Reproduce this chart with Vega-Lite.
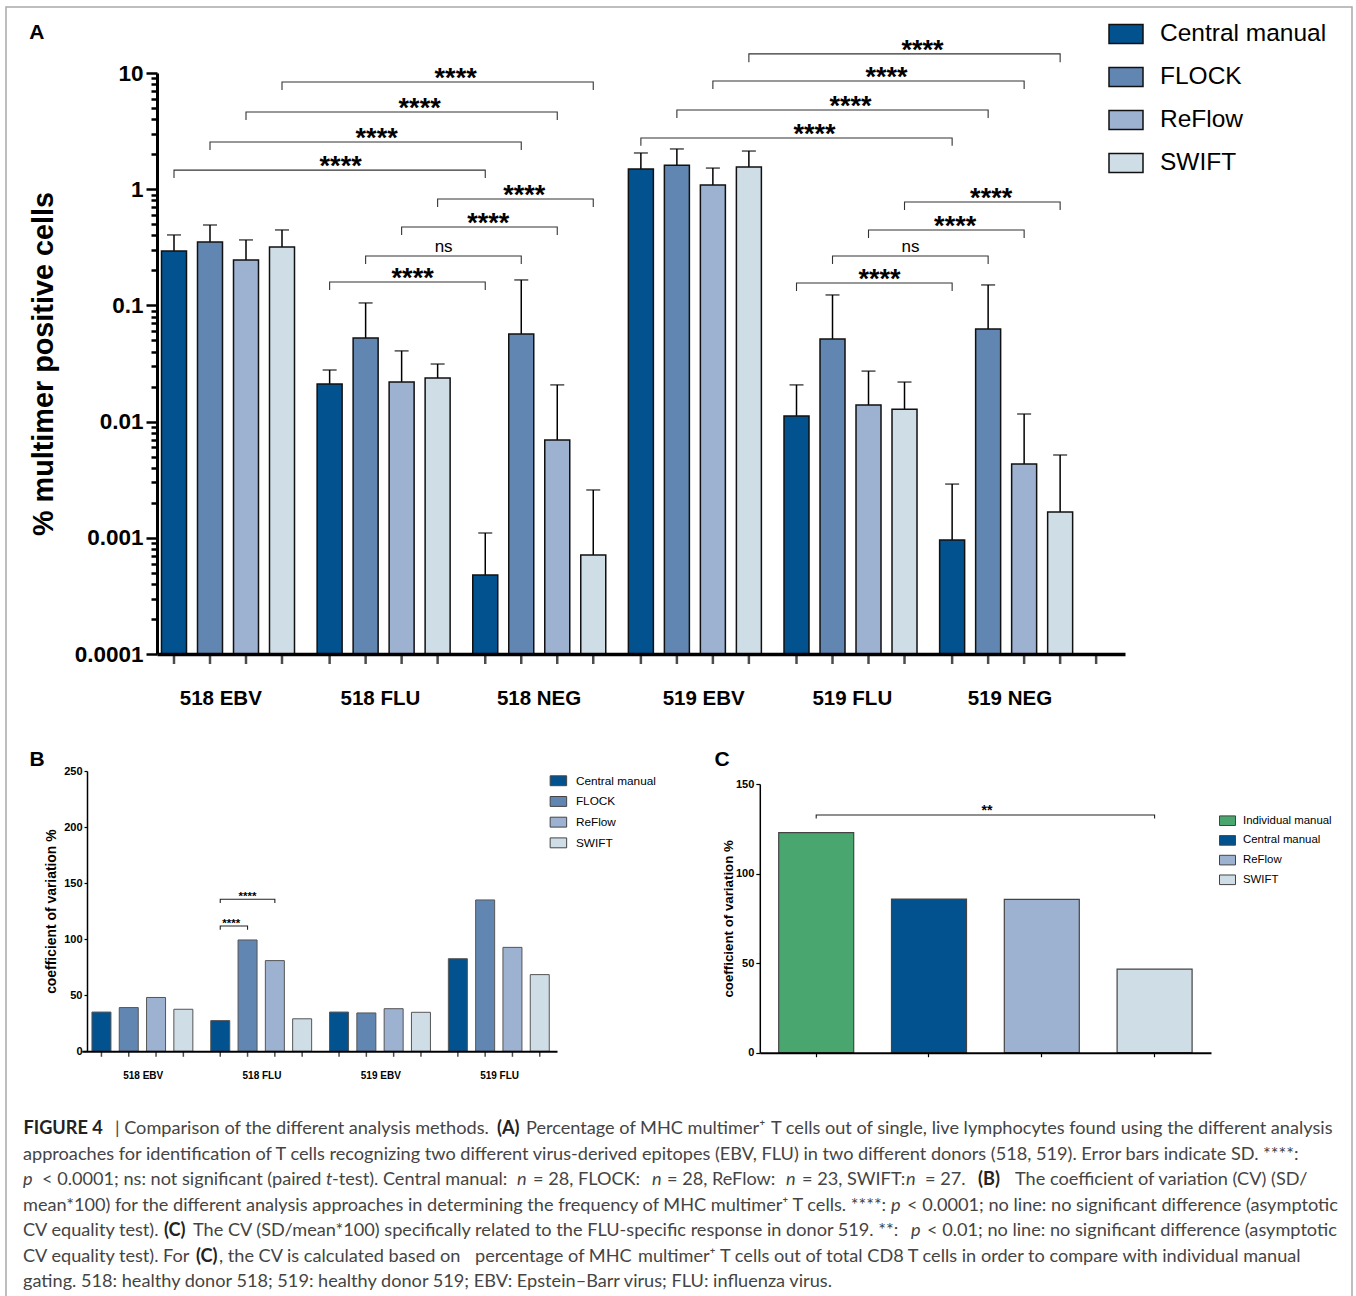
{"$schema":"https://vega.github.io/schema/vega-lite/v6.json","padding":{"left":6,"top":7,"right":4,"bottom":0},"autosize":{"type":"none"},"background":"white","width":1346,"height":1292,"view":{"stroke":"#a9a9a9","strokeWidth":1.5},"config":{"font":"Liberation Sans"},"resolve":{"scale":{"x":"independent","y":"independent","xOffset":"independent","color":"independent"},"axis":{"x":"independent","y":"independent"},"legend":{"color":"independent"}},"datasets":{"barsA":[{"group":"518 EBV","method":"Central manual","value":0.294,"err":0.404},{"group":"518 EBV","method":"FLOCK","value":0.352,"err":0.492},{"group":"518 EBV","method":"ReFlow","value":0.246,"err":0.366},{"group":"518 EBV","method":"SWIFT","value":0.318,"err":0.446},{"group":"518 FLU","method":"Central manual","value":0.0211,"err":0.0278},{"group":"518 FLU","method":"FLOCK","value":0.0524,"err":0.105},{"group":"518 FLU","method":"ReFlow","value":0.0219,"err":0.0406},{"group":"518 FLU","method":"SWIFT","value":0.0237,"err":0.0313},{"group":"518 NEG","method":"Central manual","value":0.000479,"err":0.0011},{"group":"518 NEG","method":"FLOCK","value":0.0568,"err":0.1656},{"group":"518 NEG","method":"ReFlow","value":0.00695,"err":0.0207},{"group":"518 NEG","method":"SWIFT","value":0.00071,"err":0.00258},{"group":"519 EBV","method":"Central manual","value":1.49,"err":2.05},{"group":"519 EBV","method":"FLOCK","value":1.61,"err":2.22},{"group":"519 EBV","method":"ReFlow","value":1.087,"err":1.52},{"group":"519 EBV","method":"SWIFT","value":1.55,"err":2.13},{"group":"519 FLU","method":"Central manual","value":0.0112,"err":0.0207},{"group":"519 FLU","method":"FLOCK","value":0.0514,"err":0.123},{"group":"519 FLU","method":"ReFlow","value":0.0139,"err":0.0272},{"group":"519 FLU","method":"SWIFT","value":0.0128,"err":0.0219},{"group":"519 NEG","method":"Central manual","value":0.000957,"err":0.0029},{"group":"519 NEG","method":"FLOCK","value":0.0627,"err":0.15},{"group":"519 NEG","method":"ReFlow","value":0.00432,"err":0.0116},{"group":"519 NEG","method":"SWIFT","value":0.00167,"err":0.00516},{"group":"519 NEG","method":""}],"bracketsA":[{"b":1,"s":1,"group":"518 EBV","method":"Central manual","level":1.25},{"b":1,"s":2,"group":"518 EBV","method":"Central manual","level":1.46},{"b":1,"s":3,"group":"518 NEG","method":"Central manual","level":1.46},{"b":1,"s":4,"group":"518 NEG","method":"Central manual","level":1.25},{"b":2,"s":1,"group":"518 EBV","method":"FLOCK","level":2.17},{"b":2,"s":2,"group":"518 EBV","method":"FLOCK","level":2.55},{"b":2,"s":3,"group":"518 NEG","method":"FLOCK","level":2.55},{"b":2,"s":4,"group":"518 NEG","method":"FLOCK","level":2.17},{"b":3,"s":1,"group":"518 EBV","method":"ReFlow","level":3.94},{"b":3,"s":2,"group":"518 EBV","method":"ReFlow","level":4.62},{"b":3,"s":3,"group":"518 NEG","method":"ReFlow","level":4.62},{"b":3,"s":4,"group":"518 NEG","method":"ReFlow","level":3.94},{"b":4,"s":1,"group":"518 EBV","method":"SWIFT","level":7.14},{"b":4,"s":2,"group":"518 EBV","method":"SWIFT","level":8.37},{"b":4,"s":3,"group":"518 NEG","method":"SWIFT","level":8.37},{"b":4,"s":4,"group":"518 NEG","method":"SWIFT","level":7.14},{"b":5,"s":1,"group":"518 FLU","method":"Central manual","level":0.136},{"b":5,"s":2,"group":"518 FLU","method":"Central manual","level":0.159},{"b":5,"s":3,"group":"518 NEG","method":"Central manual","level":0.159},{"b":5,"s":4,"group":"518 NEG","method":"Central manual","level":0.136},{"b":6,"s":1,"group":"518 FLU","method":"FLOCK","level":0.227},{"b":6,"s":2,"group":"518 FLU","method":"FLOCK","level":0.266},{"b":6,"s":3,"group":"518 NEG","method":"FLOCK","level":0.266},{"b":6,"s":4,"group":"518 NEG","method":"FLOCK","level":0.227},{"b":7,"s":1,"group":"518 FLU","method":"ReFlow","level":0.404},{"b":7,"s":2,"group":"518 FLU","method":"ReFlow","level":0.473},{"b":7,"s":3,"group":"518 NEG","method":"ReFlow","level":0.473},{"b":7,"s":4,"group":"518 NEG","method":"ReFlow","level":0.404},{"b":8,"s":1,"group":"518 FLU","method":"SWIFT","level":0.703},{"b":8,"s":2,"group":"518 FLU","method":"SWIFT","level":0.824},{"b":8,"s":3,"group":"518 NEG","method":"SWIFT","level":0.824},{"b":8,"s":4,"group":"518 NEG","method":"SWIFT","level":0.703},{"b":9,"s":1,"group":"519 EBV","method":"Central manual","level":2.36},{"b":9,"s":2,"group":"519 EBV","method":"Central manual","level":2.76},{"b":9,"s":3,"group":"519 NEG","method":"Central manual","level":2.76},{"b":9,"s":4,"group":"519 NEG","method":"Central manual","level":2.36},{"b":10,"s":1,"group":"519 EBV","method":"FLOCK","level":4.1},{"b":10,"s":2,"group":"519 EBV","method":"FLOCK","level":4.81},{"b":10,"s":3,"group":"519 NEG","method":"FLOCK","level":4.81},{"b":10,"s":4,"group":"519 NEG","method":"FLOCK","level":4.1},{"b":11,"s":1,"group":"519 EBV","method":"ReFlow","level":7.28},{"b":11,"s":2,"group":"519 EBV","method":"ReFlow","level":8.53},{"b":11,"s":3,"group":"519 NEG","method":"ReFlow","level":8.53},{"b":11,"s":4,"group":"519 NEG","method":"ReFlow","level":7.28},{"b":12,"s":1,"group":"519 EBV","method":"SWIFT","level":12.4},{"b":12,"s":2,"group":"519 EBV","method":"SWIFT","level":14.6},{"b":12,"s":3,"group":"519 NEG","method":"SWIFT","level":14.6},{"b":12,"s":4,"group":"519 NEG","method":"SWIFT","level":12.4},{"b":13,"s":1,"group":"519 FLU","method":"Central manual","level":0.133},{"b":13,"s":2,"group":"519 FLU","method":"Central manual","level":0.156},{"b":13,"s":3,"group":"519 NEG","method":"Central manual","level":0.156},{"b":13,"s":4,"group":"519 NEG","method":"Central manual","level":0.133},{"b":14,"s":1,"group":"519 FLU","method":"FLOCK","level":0.227},{"b":14,"s":2,"group":"519 FLU","method":"FLOCK","level":0.266},{"b":14,"s":3,"group":"519 NEG","method":"FLOCK","level":0.266},{"b":14,"s":4,"group":"519 NEG","method":"FLOCK","level":0.227},{"b":15,"s":1,"group":"519 FLU","method":"ReFlow","level":0.38},{"b":15,"s":2,"group":"519 FLU","method":"ReFlow","level":0.446},{"b":15,"s":3,"group":"519 NEG","method":"ReFlow","level":0.446},{"b":15,"s":4,"group":"519 NEG","method":"ReFlow","level":0.38},{"b":16,"s":1,"group":"519 FLU","method":"SWIFT","level":0.662},{"b":16,"s":2,"group":"519 FLU","method":"SWIFT","level":0.776},{"b":16,"s":3,"group":"519 NEG","method":"SWIFT","level":0.776},{"b":16,"s":4,"group":"519 NEG","method":"SWIFT","level":0.662}],"starsFar":[{"group":"518 FLU","method":"ReFlow","level":4.62},{"group":"518 FLU","method":"SWIFT","level":8.37},{"group":"519 FLU","method":"Central manual","level":2.76},{"group":"519 FLU","method":"FLOCK","level":4.81},{"group":"519 FLU","method":"ReFlow","level":8.53},{"group":"519 FLU","method":"SWIFT","level":14.6}],"starsMid":[{"group":"518 FLU","method":"Central manual","level":1.46},{"group":"518 FLU","method":"FLOCK","level":2.55},{"group":"518 FLU","method":"ReFlow","level":0.159},{"group":"519 FLU","method":"ReFlow","level":0.156}],"starsNear":[{"group":"518 NEG","method":"Central manual","level":0.473},{"group":"518 NEG","method":"FLOCK","level":0.824},{"group":"519 NEG","method":"Central manual","level":0.446},{"group":"519 NEG","method":"FLOCK","level":0.776}],"nsA":[{"group":"518 FLU","method":"SWIFT","level":0.266},{"group":"519 FLU","method":"SWIFT","level":0.266}],"barsB":[{"group":"518 EBV","method":"Central manual","cv":35},{"group":"518 EBV","method":"FLOCK","cv":39},{"group":"518 EBV","method":"ReFlow","cv":48},{"group":"518 EBV","method":"SWIFT","cv":37.5},{"group":"518 FLU","method":"Central manual","cv":27.4},{"group":"518 FLU","method":"FLOCK","cv":99.3},{"group":"518 FLU","method":"ReFlow","cv":80.9},{"group":"518 FLU","method":"SWIFT","cv":29},{"group":"519 EBV","method":"Central manual","cv":35},{"group":"519 EBV","method":"FLOCK","cv":34.2},{"group":"519 EBV","method":"ReFlow","cv":38},{"group":"519 EBV","method":"SWIFT","cv":34.8},{"group":"519 FLU","method":"Central manual","cv":82.6},{"group":"519 FLU","method":"FLOCK","cv":135},{"group":"519 FLU","method":"ReFlow","cv":92.7},{"group":"519 FLU","method":"SWIFT","cv":68.4}],"bracketsB":[{"b":1,"s":1,"group":"518 FLU","method":"Central manual","level":108.5},{"b":1,"s":2,"group":"518 FLU","method":"Central manual","level":111.8},{"b":1,"s":3,"group":"518 FLU","method":"FLOCK","level":111.8},{"b":1,"s":4,"group":"518 FLU","method":"FLOCK","level":108.5},{"b":2,"s":1,"group":"518 FLU","method":"Central manual","level":132.3},{"b":2,"s":2,"group":"518 FLU","method":"Central manual","level":135.6},{"b":2,"s":3,"group":"518 FLU","method":"ReFlow","level":135.6},{"b":2,"s":4,"group":"518 FLU","method":"ReFlow","level":132.3}],"barsC":[{"method":"Individual manual","cv":122.8},{"method":"Central manual","cv":85.8},{"method":"ReFlow","cv":85.6},{"method":"SWIFT","cv":46.7}],"bracketC":[{"s":1,"method":"Individual manual","level":130.8},{"s":2,"method":"Individual manual","level":132.7},{"s":3,"method":"SWIFT","level":132.7},{"s":4,"method":"SWIFT","level":130.8}],"caption":[{"line":1,"col":1.75,"face":"bold","text":"FIGURE 4"},{"line":1,"col":10.9,"face":"regular","text":"| Comparison of the different analysis methods."},{"line":1,"col":49.1,"face":"bold","text":"(A)"},{"line":1,"col":52.0,"face":"regular","text":"Percentage of MHC multimer⁺"},{"line":1,"col":76.5,"face":"regular","text":"T cells out of single, live lymphocytes found using the different analysis"},{"line":2,"col":1.7,"face":"regular","text":"approaches for identification of T cells recognizing two different virus-derived epitopes (EBV, FLU) in two different donors (518, 519). Error bars indicate SD. ****:"},{"line":3,"col":1.7,"face":"italic","text":"p"},{"line":3,"col":3.6,"face":"regular","text":"< 0.0001; ns: not significant (paired"},{"line":3,"col":32.0,"face":"italic","text":"t"},{"line":3,"col":32.6,"face":"regular","text":"-test). Central manual:"},{"line":3,"col":51.1,"face":"italic","text":"n"},{"line":3,"col":52.7,"face":"regular","text":"= 28, FLOCK:"},{"line":3,"col":64.6,"face":"italic","text":"n"},{"line":3,"col":66.1,"face":"regular","text":"= 28, ReFlow:"},{"line":3,"col":78.0,"face":"italic","text":"n"},{"line":3,"col":79.6,"face":"regular","text":"= 23, SWIFT:"},{"line":3,"col":90.0,"face":"italic","text":"n"},{"line":3,"col":91.9,"face":"regular","text":"= 27."},{"line":3,"col":97.2,"face":"bold","text":"(B)"},{"line":3,"col":100.9,"face":"regular","text":"The coefficient of variation (CV) (SD/"},{"line":4,"col":1.7,"face":"regular","text":"mean*100) for the different analysis approaches in determining the frequency of MHC multimer⁺ T cells. ****:"},{"line":4,"col":88.5,"face":"italic","text":"p"},{"line":4,"col":90.1,"face":"regular","text":"< 0.0001; no line: no significant difference (asymptotic"},{"line":5,"col":1.7,"face":"regular","text":"CV equality test)."},{"line":5,"col":15.8,"face":"bold","text":"(C)"},{"line":5,"col":18.7,"face":"regular","text":"The CV (SD/mean*100) specifically related to the FLU-specific response in donor 519. **:"},{"line":5,"col":90.5,"face":"italic","text":"p"},{"line":5,"col":92.1,"face":"regular","text":"< 0.01; no line: no significant difference (asymptotic"},{"line":6,"col":1.7,"face":"regular","text":"CV equality test). For"},{"line":6,"col":19.0,"face":"bold","text":"(C)"},{"line":6,"col":21.3,"face":"regular","text":", the CV is calculated based on"},{"line":6,"col":46.9,"face":"regular","text":"percentage of MHC"},{"line":6,"col":63.2,"face":"regular","text":"multimer⁺"},{"line":6,"col":71.4,"face":"regular","text":"T cells out of total CD8 T cells in order to compare with individual manual"},{"line":7,"col":1.7,"face":"regular","text":"gating. 518: healthy donor 518; 519: healthy donor 519; EBV: Epstein–Barr virus; FLU: influenza virus."}]},"layer":[{"layer":[{"data":{"name":"barsA"},"mark":{"type":"tick","orient":"vertical","size":10,"thickness":2.5,"color":"black","yOffset":5},"encoding":{"x":{"field":"group","type":"nominal","scale":{"domain":["518 EBV","518 FLU","518 NEG","519 EBV","519 FLU","519 NEG"],"range":[151,1119],"paddingInner":0,"paddingOuter":0.11,"align":0},"axis":{"orient":"bottom","offset":-645,"ticks":false,"labels":false,"title":null,"domainWidth":3.5,"domainColor":"black","zindex":1}},"xOffset":{"field":"method","type":"nominal","scale":{"domain":["Central manual","FLOCK","ReFlow","SWIFT",""],"range":[-1,179],"paddingInner":0,"paddingOuter":0}},"y":{"datum":0.0001,"type":"quantitative","scale":{"type":"log","domain":[0.0001,10],"range":[647,66],"nice":false},"axis":{"orient":"left","offset":-151,"title":"% multimer positive cells","titleFontSize":28.8,"titleFontWeight":"bold","titleColor":"black","titlePadding":16,"labelFontSize":22.5,"labelFontWeight":"bold","labelColor":"black","labelPadding":3,"labelOverlap":false,"domainWidth":3,"domainColor":"black","tickColor":"black","tickWidth":2.5,"tickSize":{"condition":{"test":"indexof(['10','1','0.1','0.01','0.001','0.0001'],''+datum.value)>=0","value":11},"value":6},"grid":false,"zindex":1,"values":[0.0001,0.0002,0.0003,0.0004,0.0005,0.0006,0.0007,0.0008,0.0009,0.001,0.002,0.003,0.004,0.005,0.006,0.007,0.008,0.009,0.01,0.02,0.03,0.04,0.05,0.06,0.07,0.08,0.09,0.1,0.2,0.3,0.4,0.5,0.6,0.7,0.8,0.9,1,2,3,4,5,6,7,8,9,10],"labelExpr":"indexof(['10','1','0.1','0.01','0.001','0.0001'],''+datum.value)>=0?''+datum.value:''"}}}},{"data":{"name":"barsA"},"mark":{"type":"rule","color":"black","strokeWidth":1.5},"encoding":{"x":{"field":"group","type":"nominal"},"xOffset":{"field":"method","type":"nominal"},"y":{"field":"value","type":"quantitative"},"y2":{"field":"err"}}},{"data":{"name":"barsA"},"mark":{"type":"tick","orient":"horizontal","size":14,"thickness":1.5,"color":"black"},"encoding":{"x":{"field":"group","type":"nominal"},"xOffset":{"field":"method","type":"nominal"},"y":{"field":"err","type":"quantitative"}}},{"data":{"name":"barsA"},"mark":{"type":"bar","width":25,"stroke":"#111111","strokeWidth":1.5},"encoding":{"x":{"field":"group","type":"nominal"},"xOffset":{"field":"method","type":"nominal"},"y":{"field":"value","type":"quantitative","stack":null},"y2":{"datum":0.0001},"color":{"field":"method","type":"nominal","scale":{"domain":["Central manual","FLOCK","ReFlow","SWIFT"],"range":["#02528f","#6286b2","#9db1d0","#cedde6"]},"legend":{"title":null,"orient":"none","legendX":1102,"legendY":9,"symbolType":"M-1,-0.56H1V0.56H-1Z","symbolSize":1156,"symbolStrokeColor":"#111111","symbolStrokeWidth":1.5,"labelFontSize":24.5,"labelColor":"black","labelOffset":16,"rowPadding":12,"labelLimit":300}}}},{"data":{"name":"bracketsA"},"mark":{"type":"line","color":"#333333","strokeWidth":1.1},"encoding":{"x":{"field":"group","type":"nominal"},"xOffset":{"field":"method","type":"nominal"},"y":{"field":"level","type":"quantitative"},"detail":{"field":"b"},"order":{"field":"s"}}},{"data":{"name":"starsFar"},"mark":{"type":"text","text":"****","fontWeight":"bold","fontSize":27,"dx":18,"dy":5,"baseline":"alphabetic","color":"black"},"encoding":{"x":{"field":"group","type":"nominal"},"xOffset":{"field":"method","type":"nominal"},"y":{"field":"level","type":"quantitative"}}},{"data":{"name":"starsMid"},"mark":{"type":"text","text":"****","fontWeight":"bold","fontSize":27,"dx":11,"dy":5,"baseline":"alphabetic","color":"black"},"encoding":{"x":{"field":"group","type":"nominal"},"xOffset":{"field":"method","type":"nominal"},"y":{"field":"level","type":"quantitative"}}},{"data":{"name":"starsNear"},"mark":{"type":"text","text":"****","fontWeight":"bold","fontSize":27,"dx":3,"dy":5,"baseline":"alphabetic","color":"black"},"encoding":{"x":{"field":"group","type":"nominal"},"xOffset":{"field":"method","type":"nominal"},"y":{"field":"level","type":"quantitative"}}},{"data":{"name":"nsA"},"mark":{"type":"text","text":"ns","fontSize":17,"dx":6,"dy":-4,"baseline":"alphabetic","color":"black"},"encoding":{"x":{"field":"group","type":"nominal"},"xOffset":{"field":"method","type":"nominal"},"y":{"field":"level","type":"quantitative"}}},{"data":{"values":[{"group":"518 EBV"}]},"mark":{"type":"text","fontWeight":"bold","fontSize":20.5,"dx":-14,"dy":51,"baseline":"alphabetic","color":"black"},"encoding":{"x":{"field":"group","type":"nominal"},"y":{"datum":0.0001,"type":"quantitative"},"text":{"field":"group"}}},{"data":{"values":[{"group":"518 FLU"}]},"mark":{"type":"text","fontWeight":"bold","fontSize":20.5,"dx":-10,"dy":51,"baseline":"alphabetic","color":"black"},"encoding":{"x":{"field":"group","type":"nominal"},"y":{"datum":0.0001,"type":"quantitative"},"text":{"field":"group"}}},{"data":{"values":[{"group":"518 NEG"}]},"mark":{"type":"text","fontWeight":"bold","fontSize":20.5,"dx":-7,"dy":51,"baseline":"alphabetic","color":"black"},"encoding":{"x":{"field":"group","type":"nominal"},"y":{"datum":0.0001,"type":"quantitative"},"text":{"field":"group"}}},{"data":{"values":[{"group":"519 EBV"}]},"mark":{"type":"text","fontWeight":"bold","fontSize":20.5,"dx":2,"dy":51,"baseline":"alphabetic","color":"black"},"encoding":{"x":{"field":"group","type":"nominal"},"y":{"datum":0.0001,"type":"quantitative"},"text":{"field":"group"}}},{"data":{"values":[{"group":"519 FLU"}]},"mark":{"type":"text","fontWeight":"bold","fontSize":20.5,"dx":-5,"dy":51,"baseline":"alphabetic","color":"black"},"encoding":{"x":{"field":"group","type":"nominal"},"y":{"datum":0.0001,"type":"quantitative"},"text":{"field":"group"}}},{"data":{"values":[{"group":"519 NEG"}]},"mark":{"type":"text","fontWeight":"bold","fontSize":20.5,"dx":-3,"dy":51,"baseline":"alphabetic","color":"black"},"encoding":{"x":{"field":"group","type":"nominal"},"y":{"datum":0.0001,"type":"quantitative"},"text":{"field":"group"}}},{"data":{"values":[{"group":"518 EBV"}]},"mark":{"type":"text","text":"A","fontWeight":"bold","fontSize":21,"dx":-198,"color":"black"},"encoding":{"x":{"field":"group","type":"nominal"},"y":{"datum":22,"type":"quantitative"}}}]},{"layer":[{"data":{"name":"barsB"},"mark":{"type":"tick","orient":"vertical","size":5,"thickness":1.5,"color":"black","yOffset":3},"encoding":{"x":{"field":"group","type":"nominal","scale":{"domain":["518 EBV","518 FLU","519 EBV","519 FLU"],"range":[75.8,551],"paddingInner":0,"paddingOuter":0},"axis":{"orient":"bottom","offset":-247.7,"title":null,"ticks":false,"labelAngle":0,"labelFontSize":10,"labelFontWeight":"bold","labelColor":"black","labelPadding":19,"labelOffset":2,"domainWidth":2,"domainColor":"black","zindex":1}},"xOffset":{"field":"method","type":"nominal","scale":{"domain":["Central manual","FLOCK","ReFlow","SWIFT"],"range":[6,115.2],"paddingInner":0,"paddingOuter":0}},"y":{"datum":0,"type":"quantitative","scale":{"domain":[0,250],"range":[1044.3,764],"nice":false},"axis":{"orient":"left","offset":-81,"title":"coefficient of variation %","titleFontSize":13.9,"titleFontWeight":"bold","titleColor":"black","titlePadding":5,"values":[0,50,100,150,200,250],"labelFontSize":11,"labelFontWeight":"bold","labelColor":"black","labelPadding":2,"tickSize":3,"tickColor":"black","tickWidth":1.2,"domainColor":"black","domainWidth":1.5,"grid":false}}}},{"data":{"name":"barsB"},"mark":{"type":"bar","width":19,"stroke":"#555555","strokeWidth":1},"encoding":{"x":{"field":"group","type":"nominal"},"xOffset":{"field":"method","type":"nominal"},"y":{"field":"cv","type":"quantitative","stack":null},"color":{"field":"method","type":"nominal","scale":{"domain":["Central manual","FLOCK","ReFlow","SWIFT"],"range":["#02528f","#6286b2","#9db1d0","#cedde6"]},"legend":{"title":null,"orient":"none","legendX":543.4,"legendY":764.75,"symbolType":"M-1,-0.6H1V0.6H-1Z","symbolSize":272,"symbolStrokeColor":"#444444","symbolStrokeWidth":1,"labelFontSize":11.8,"labelColor":"black","labelOffset":8.5,"rowPadding":4.7,"labelLimit":200}}}},{"data":{"name":"bracketsB"},"mark":{"type":"line","color":"#222222","strokeWidth":1.1},"encoding":{"x":{"field":"group","type":"nominal"},"xOffset":{"field":"method","type":"nominal"},"y":{"field":"level","type":"quantitative"},"detail":{"field":"b"},"order":{"field":"s"}}},{"data":{"values":[{"group":"518 FLU","method":"Central manual","level":111.8}]},"mark":{"type":"text","text":"****","fontWeight":"bold","fontSize":11.5,"dx":11,"dy":1,"baseline":"alphabetic","color":"black"},"encoding":{"x":{"field":"group","type":"nominal"},"xOffset":{"field":"method","type":"nominal"},"y":{"field":"level","type":"quantitative"}}},{"data":{"values":[{"group":"518 FLU","method":"FLOCK","level":135.6}]},"mark":{"type":"text","text":"****","fontWeight":"bold","fontSize":11.5,"dy":1,"baseline":"alphabetic","color":"black"},"encoding":{"x":{"field":"group","type":"nominal"},"xOffset":{"field":"method","type":"nominal"},"y":{"field":"level","type":"quantitative"}}},{"data":{"values":[{"group":"518 EBV"}]},"mark":{"type":"text","text":"B","fontWeight":"bold","fontSize":21,"dx":-104,"color":"black"},"encoding":{"x":{"field":"group","type":"nominal"},"y":{"datum":260,"type":"quantitative"}}}]},{"layer":[{"data":{"name":"barsC"},"mark":{"type":"bar","width":75,"stroke":"#444444","strokeWidth":1.2},"encoding":{"x":{"field":"method","type":"nominal","scale":{"domain":["Individual manual","Central manual","ReFlow","SWIFT"],"range":[753.8,1205],"paddingInner":0,"paddingOuter":0},"axis":{"orient":"bottom","offset":-246.3,"title":null,"labels":false,"ticks":true,"tickSize":4,"tickColor":"black","tickWidth":1.2,"domainColor":"black","domainWidth":2,"zindex":1}},"y":{"field":"cv","type":"quantitative","stack":null,"scale":{"domain":[0,150],"range":[1045.7,777],"nice":false},"axis":{"orient":"left","offset":-753.8,"title":"coefficient of variation %","titleFontSize":13.3,"titleFontWeight":"bold","titleColor":"black","titlePadding":0,"values":[0,50,100,150],"labelFontSize":11,"labelFontWeight":"bold","labelColor":"black","labelPadding":2,"tickSize":4,"tickColor":"black","tickWidth":1.2,"domainColor":"black","domainWidth":1.5,"grid":false}},"color":{"field":"method","type":"nominal","scale":{"domain":["Individual manual","Central manual","ReFlow","SWIFT"],"range":["#4aa66f","#02528f","#9db1d0","#cedde6"]},"legend":{"title":null,"orient":"none","legendX":1213,"legendY":805.2,"symbolType":"M-1,-0.6H1V0.6H-1Z","symbolSize":256,"symbolStrokeColor":"#444444","symbolStrokeWidth":1,"labelFontSize":11.4,"labelColor":"black","labelOffset":7,"rowPadding":3.7,"labelLimit":200}}}},{"data":{"name":"bracketC"},"mark":{"type":"line","color":"#222222","strokeWidth":1.1},"encoding":{"x":{"field":"method","type":"nominal"},"y":{"field":"level","type":"quantitative"},"order":{"field":"s"}}},{"data":{"values":[{"method":"Central manual","level":132.7}]},"mark":{"type":"text","text":"**","fontWeight":"bold","fontSize":14,"dx":58,"dy":0,"baseline":"alphabetic","color":"black"},"encoding":{"x":{"field":"method","type":"nominal"},"y":{"field":"level","type":"quantitative"}}},{"data":{"values":[{"method":"Individual manual"}]},"mark":{"type":"text","text":"C","fontWeight":"bold","fontSize":21,"dx":-94,"color":"black"},"encoding":{"x":{"field":"method","type":"nominal"},"y":{"datum":163.4,"type":"quantitative"}}}]},{"data":{"name":"caption"},"encoding":{"x":{"field":"col","type":"quantitative","scale":{"domain":[0,134.6]},"axis":null},"y":{"field":"line","type":"quantitative","scale":{"domain":[1,7],"range":[1122,1275]},"axis":null},"text":{"field":"text"}},"layer":[{"transform":[{"filter":"datum.face=='regular'"}],"mark":{"type":"text","align":"left","baseline":"middle","font":"Lato","fontSize":18.15,"color":"#444444"}},{"transform":[{"filter":"datum.face=='bold'"}],"mark":{"type":"text","align":"left","baseline":"middle","font":"Lato","fontSize":18.15,"fontWeight":"bold","color":"#222222"}},{"transform":[{"filter":"datum.face=='italic'"}],"mark":{"type":"text","align":"left","baseline":"middle","font":"Lato","fontSize":18.15,"fontStyle":"italic","color":"#444444"}}]}]}
